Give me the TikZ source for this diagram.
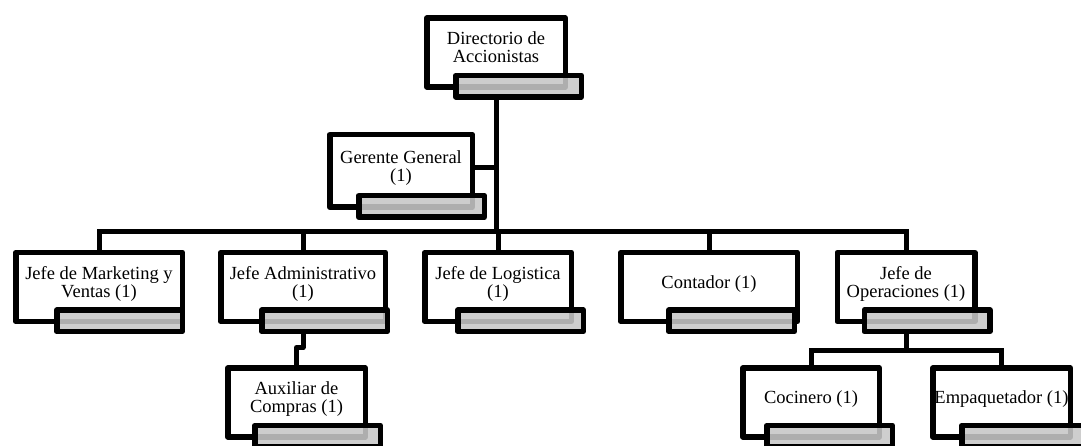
\documentclass[tikz,border=0pt]{standalone}
\usepackage{fontspec}
\setmainfont{Liberation Serif}
\begin{document}
\begin{tikzpicture}
[x=1pt,y=-1pt,line join=round,
% Styles
unit/.style={draw,line width=5.5pt,fill=white,outer sep=0pt,inner sep=0pt,
  align=center,font=\fontsize{18.5}{18}\selectfont,minimum height=69pt,
  text depth=10pt},
shade bar/.style={draw,line width=5.5pt,fill=barcolor,fill opacity=0.88,
  outer sep=0pt,inner sep=0pt,minimum width=125.5pt,minimum height=21.5pt,
  anchor=north east},
link/.style={line width=5pt,line cap=rect}]
% Colors
\colorlet{barcolor}{black!22}

\useasboundingbox (0,0) rectangle (1081,446);

% The boxes
\node[unit,minimum width=138.5pt] (dir) at (496,52.5) {Directorio de\\Accionistas};
\node[unit,minimum width=142.5pt,minimum height=72.5pt] (ger) at (401,171) {Gerente General\\(1)};
\node[unit,minimum width=166.5pt] (mkt) at (99,287) {Jefe de Marketing y\\Ventas (1)};
\node[unit,minimum width=164.5pt] (adm) at (303,287) {Jefe Administrativo\\(1)};
\node[unit,minimum width=146.5pt] (log) at (498,287) {Jefe de Logistica\\(1)};
\node[unit,minimum width=176.5pt] (con) at (709,287) {Contador (1)};
\node[unit,minimum width=137.5pt] (ope) at (906,287) {Jefe de\\Operaciones (1)};
\node[unit,minimum width=137.5pt] (aux) at (296.5,402.5) {Auxiliar de\\Compras (1)};
\node[unit,minimum width=136.5pt] (coc) at (811,402.5) {Cocinero (1)};
\node[unit,minimum width=137.5pt] (emp) at (1001.5,402.5) {Empaquetador (1)};

% Gray bars over the lower right corners
\foreach \n/\d in {dir/16,ger/12,mkt/0,adm/2,log/12,con/-3,ope/15,aux/15,coc/13,emp/17}
  \node[shade bar] (\n-b) at ([xshift=\d pt,yshift=11.5pt]\n.south east) {};

% Connectors
\coordinate (bus) at (0,232);
\coordinate (ops bus) at (0,350);
\draw[link] (dir-b.south -| dir) -- (bus -| dir);
\draw[link] ([yshift=3pt]ger.east) -- ([yshift=3pt]ger.east -| dir);
\draw[link] (bus -| mkt) -- (bus -| ope);
\foreach \n in {mkt,adm,log,con,ope}
  \draw[link] (bus -| \n) -- (\n.north);
\draw[link] (adm-b.south -| adm) -- ++(0,16) -| (aux.north);
\draw[link] (ope-b.south -| ope) -- (ops bus -| ope);
\draw[link] (ops bus -| coc) -- (ops bus -| emp);
\foreach \n in {coc,emp}
  \draw[link] (ops bus -| \n) -- (\n.north);
\end{tikzpicture}
\end{document}
